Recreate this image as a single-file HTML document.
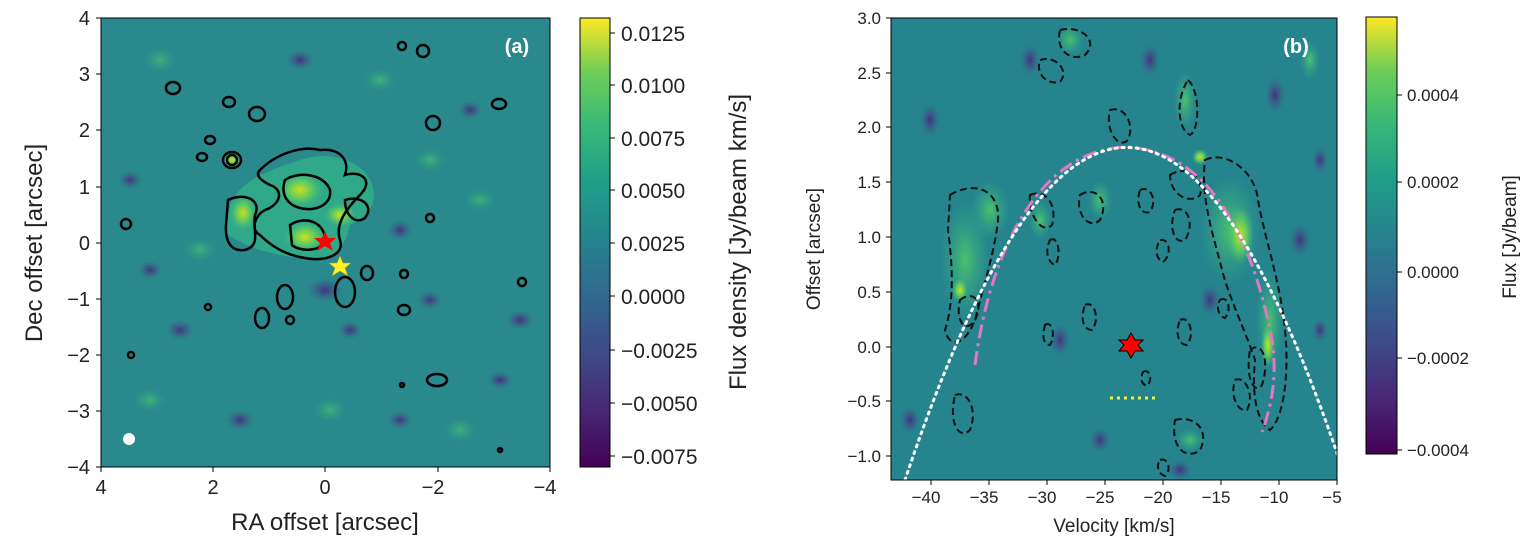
<!DOCTYPE html>
<html><head><meta charset="utf-8"><style>
body{margin:0;background:#fff;}
svg{display:block;font-family:"Liberation Sans","DejaVu Sans",sans-serif;}
</style></head><body>
<svg width="1536" height="552" viewBox="0 0 1536 552" xmlns="http://www.w3.org/2000/svg">
<defs>
<linearGradient id="vir" x1="0" y1="1" x2="0" y2="0">
<stop offset="0" stop-color="#440154"/><stop offset="0.13" stop-color="#482878"/>
<stop offset="0.25" stop-color="#3e4989"/><stop offset="0.38" stop-color="#31688e"/>
<stop offset="0.5" stop-color="#26828e"/><stop offset="0.63" stop-color="#1f9e89"/>
<stop offset="0.75" stop-color="#35b779"/><stop offset="0.88" stop-color="#6ece58"/>
<stop offset="1" stop-color="#fde725"/></linearGradient>
<radialGradient id="gb"><stop offset="0" stop-color="#c8e020"/><stop offset="0.5" stop-color="#5ec962"/><stop offset="1" stop-color="#3bb67a" stop-opacity="0"/></radialGradient>
<radialGradient id="gg"><stop offset="0" stop-color="#4cc26c"/><stop offset="1" stop-color="#2fa88a" stop-opacity="0"/></radialGradient>
<radialGradient id="pp"><stop offset="0" stop-color="#46327e"/><stop offset="1" stop-color="#3b5a8c" stop-opacity="0"/></radialGradient>
<clipPath id="ca"><rect x="101" y="18" width="449" height="449"/></clipPath>
<clipPath id="cb"><rect x="891" y="18" width="446" height="462"/></clipPath>
</defs>

<!-- Panel a -->
<g clip-path="url(#ca)">
<rect x="101" y="18" width="449" height="449" fill="#2a898c"/>
<g fill="url(#pp)">
<ellipse cx="325" cy="290" rx="18" ry="12"/><ellipse cx="250" cy="225" rx="14" ry="10"/>
<ellipse cx="400" cy="230" rx="12" ry="10"/><ellipse cx="240" cy="420" rx="14" ry="10"/>
<ellipse cx="520" cy="320" rx="14" ry="10"/><ellipse cx="180" cy="330" rx="14" ry="10"/>
<ellipse cx="300" cy="60" rx="14" ry="10"/><ellipse cx="470" cy="110" rx="12" ry="9"/>
<ellipse cx="150" cy="270" rx="12" ry="9"/><ellipse cx="400" cy="420" rx="12" ry="9"/>
<ellipse cx="430" cy="300" rx="12" ry="9"/><ellipse cx="130" cy="180" rx="12" ry="9"/>
<ellipse cx="500" cy="380" rx="12" ry="9"/><ellipse cx="350" cy="330" rx="12" ry="9"/>
</g>
<g fill="url(#gg)" opacity="0.7">
<ellipse cx="160" cy="60" rx="16" ry="12"/><ellipse cx="380" cy="80" rx="16" ry="12"/>
<ellipse cx="480" cy="200" rx="16" ry="12"/><ellipse cx="150" cy="400" rx="16" ry="12"/>
<ellipse cx="330" cy="410" rx="16" ry="12"/><ellipse cx="460" cy="430" rx="16" ry="12"/>
<ellipse cx="200" cy="250" rx="16" ry="12"/><ellipse cx="430" cy="160" rx="16" ry="12"/>
</g>
<path d="M230 205 C240 180 270 170 300 160 C330 150 360 160 370 180 C380 200 370 215 350 225 C345 250 330 262 300 258 C270 255 240 245 225 232 Z" fill="#2fa98a"/>
<g fill="url(#gb)">
<ellipse cx="300" cy="190" rx="24" ry="18"/><ellipse cx="305" cy="237" rx="22" ry="16"/>
<ellipse cx="243" cy="213" rx="14" ry="18"/><ellipse cx="232" cy="160" rx="10" ry="8"/>
<ellipse cx="340" cy="215" rx="16" ry="12"/>
</g>
<g fill="none" stroke="#000" stroke-width="2.5">
<path d="M260 170 C275 155 300 145 320 150 C340 148 350 160 345 175 C360 170 375 180 360 195 C345 210 335 225 340 240 C345 255 325 262 305 258 C285 255 270 245 260 235 C250 230 255 215 265 210 C280 205 285 190 270 185 C260 180 255 175 260 170 Z"/>
<path d="M228 200 C245 192 262 200 255 215 C252 230 262 245 245 250 C230 252 225 240 226 225 Z"/>
<path d="M285 180 C300 170 325 175 330 190 C332 205 315 212 300 208 C288 205 280 195 285 180 Z"/>
<path d="M290 225 C305 215 325 222 325 240 C322 252 300 252 292 245 Z"/>
<path d="M345 200 C360 195 375 205 365 218 C355 225 345 215 345 200 Z"/>
<ellipse cx="232" cy="160" rx="9" ry="8"/><ellipse cx="232" cy="160" rx="5" ry="5"/>
<ellipse cx="229" cy="102" rx="6" ry="5"/><ellipse cx="423" cy="51" rx="6" ry="6"/>
<ellipse cx="402" cy="46" rx="4" ry="4"/><ellipse cx="173" cy="88" rx="7" ry="6"/>
<ellipse cx="499" cy="104" rx="7" ry="5"/><ellipse cx="433" cy="123" rx="7" ry="7"/>
<ellipse cx="257" cy="114" rx="8" ry="7"/><ellipse cx="210" cy="140" rx="5" ry="4"/>
<ellipse cx="126" cy="224" rx="5" ry="5"/><ellipse cx="430" cy="218" rx="4" ry="4"/>
<ellipse cx="367" cy="273" rx="6" ry="7"/><ellipse cx="404" cy="274" rx="4" ry="4"/>
<ellipse cx="285" cy="297" rx="8" ry="12"/><ellipse cx="345" cy="292" rx="10" ry="15"/>
<ellipse cx="404" cy="310" rx="6" ry="5"/><ellipse cx="290" cy="320" rx="4" ry="4"/>
<ellipse cx="262" cy="318" rx="7" ry="10"/><ellipse cx="522" cy="282" rx="4" ry="4"/>
<ellipse cx="208" cy="307" rx="3" ry="3"/><ellipse cx="131" cy="355" rx="3" ry="3"/>
<ellipse cx="437" cy="380" rx="10" ry="6"/><ellipse cx="402" cy="385" rx="2" ry="2"/>
<ellipse cx="500" cy="450" rx="2" ry="2"/><ellipse cx="202" cy="157" rx="5" ry="4"/>
</g>
<circle cx="129" cy="439" r="6" fill="#fff"/>
<polygon points="325,231 328,238 336,238 330,243 333,251 325,246 317,251 320,243 314,238 322,238" fill="#f00"/>
<polygon points="340,256 343,263 351,263 345,268 348,276 340,271 332,276 335,268 329,263 337,263" fill="#fdf02a" stroke="#b8a000" stroke-width="0.5"/>
<text x="517" y="53" fill="#fff" font-size="20" font-weight="bold" text-anchor="middle">(a)</text>
</g>
<rect x="101" y="18" width="449" height="449" fill="none" stroke="#000" stroke-width="1"/>
<g font-size="20" fill="#222" text-anchor="end">
<g stroke="#000"><line x1="96" y1="18" x2="101" y2="18"/><line x1="96" y1="74" x2="101" y2="74"/><line x1="96" y1="130" x2="101" y2="130"/><line x1="96" y1="187" x2="101" y2="187"/><line x1="96" y1="243" x2="101" y2="243"/><line x1="96" y1="299" x2="101" y2="299"/><line x1="96" y1="355" x2="101" y2="355"/><line x1="96" y1="411" x2="101" y2="411"/><line x1="96" y1="467" x2="101" y2="467"/></g>
<text x="90" y="25">4</text><text x="90" y="81">3</text><text x="90" y="137">2</text><text x="90" y="194">1</text><text x="90" y="250">0</text><text x="90" y="306">−1</text><text x="90" y="362">−2</text><text x="90" y="418">−3</text><text x="90" y="474">−4</text>
</g>
<g font-size="20" fill="#222" text-anchor="middle">
<g stroke="#000"><line x1="101" y1="467" x2="101" y2="472"/><line x1="213" y1="467" x2="213" y2="472"/><line x1="325" y1="467" x2="325" y2="472"/><line x1="438" y1="467" x2="438" y2="472"/><line x1="550" y1="467" x2="550" y2="472"/></g>
<text x="101" y="494">4</text><text x="213" y="494">2</text><text x="325" y="494">0</text><text x="433" y="494">−2</text><text x="545" y="494">−4</text>
</g>
<text x="325" y="530" font-size="24" fill="#222" text-anchor="middle">RA offset [arcsec]</text>
<text transform="translate(42,243) rotate(-90)" font-size="24" fill="#222" text-anchor="middle">Dec offset [arcsec]</text>

<!-- colorbar a -->
<rect x="580" y="18" width="30" height="449" fill="url(#vir)" stroke="#000"/>
<g font-size="21" fill="#222">
<g stroke="#000"><line x1="610" y1="33" x2="615" y2="33"/><line x1="610" y1="85" x2="615" y2="85"/><line x1="610" y1="138" x2="615" y2="138"/><line x1="610" y1="190" x2="615" y2="190"/><line x1="610" y1="243" x2="615" y2="243"/><line x1="610" y1="296" x2="615" y2="296"/><line x1="610" y1="350" x2="615" y2="350"/><line x1="610" y1="403" x2="615" y2="403"/><line x1="610" y1="456" x2="615" y2="456"/></g>
<text x="621" y="41">0.0125</text><text x="621" y="93">0.0100</text><text x="621" y="146">0.0075</text><text x="621" y="198">0.0050</text><text x="621" y="251">0.0025</text><text x="621" y="304">0.0000</text><text x="621" y="358">−0.0025</text><text x="621" y="411">−0.0050</text><text x="621" y="464">−0.0075</text>
</g>
<text transform="translate(746,242) rotate(-90)" font-size="24" fill="#222" text-anchor="middle">Flux density [Jy/beam km/s]</text>

<!-- Panel b -->
<g clip-path="url(#cb)">
<rect x="891" y="18" width="446" height="462" fill="#26848e"/>
<g fill="url(#pp)">
<ellipse cx="1275" cy="95" rx="10" ry="18"/><ellipse cx="1320" cy="160" rx="8" ry="14"/>
<ellipse cx="1060" cy="340" rx="10" ry="16"/><ellipse cx="1320" cy="330" rx="8" ry="12"/>
<ellipse cx="910" cy="420" rx="10" ry="14"/><ellipse cx="1180" cy="470" rx="12" ry="10"/>
<ellipse cx="1030" cy="60" rx="10" ry="16"/><ellipse cx="1100" cy="440" rx="10" ry="12"/>
<ellipse cx="1150" cy="60" rx="10" ry="16"/><ellipse cx="1300" cy="240" rx="10" ry="16"/>
<ellipse cx="930" cy="120" rx="10" ry="16"/><ellipse cx="1210" cy="300" rx="10" ry="16"/>
</g>
<g fill="url(#gg)">
<ellipse cx="1230" cy="230" rx="30" ry="55"/><ellipse cx="1270" cy="320" rx="14" ry="50"/>
<ellipse cx="965" cy="260" rx="25" ry="60"/><ellipse cx="990" cy="210" rx="20" ry="30"/>
<ellipse cx="1185" cy="100" rx="12" ry="30"/><ellipse cx="1100" cy="200" rx="12" ry="20"/>
<ellipse cx="1040" cy="220" rx="12" ry="20"/><ellipse cx="1190" cy="440" rx="14" ry="12"/>
<ellipse cx="1070" cy="40" rx="14" ry="16"/><ellipse cx="1310" cy="60" rx="10" ry="20"/>
</g>
<g fill="url(#gb)"><ellipse cx="1240" cy="235" rx="14" ry="30"/><ellipse cx="1268" cy="345" rx="7" ry="22"/><ellipse cx="1200" cy="157" rx="8" ry="8"/><ellipse cx="960" cy="290" rx="8" ry="12"/></g>
<g fill="none" stroke="#111" stroke-width="2" stroke-dasharray="7,4">
<path d="M1205 160 C1225 150 1255 170 1258 200 C1265 240 1280 280 1285 330 C1290 380 1282 420 1270 430 C1255 420 1252 390 1255 360 C1245 330 1230 300 1222 270 C1215 240 1200 200 1205 160 Z"/>
<path d="M1250 350 C1262 340 1270 360 1262 385 C1255 395 1245 380 1250 350 Z"/>
<path d="M1188 80 C1200 90 1200 130 1190 135 C1178 130 1175 100 1188 80 Z"/>
<path d="M1170 175 C1185 165 1205 175 1200 195 C1190 205 1170 195 1170 175 Z"/>
<path d="M950 195 C975 180 1000 190 998 220 C995 250 985 280 975 320 C965 345 950 350 945 330 C955 300 952 260 948 230 Z"/>
<path d="M960 300 C972 290 985 300 975 320 C965 335 955 320 960 300 Z"/>
<path d="M1060 30 C1080 25 1100 40 1085 55 C1070 62 1055 50 1060 30 Z"/>
<path d="M1040 60 C1055 55 1070 70 1060 82 C1048 85 1035 75 1040 60 Z"/>
<path d="M1110 110 C1125 105 1135 125 1128 140 C1118 150 1105 130 1110 110 Z"/>
<path d="M1080 195 C1095 185 1110 200 1100 220 C1090 230 1075 215 1080 195 Z"/>
<path d="M1030 195 C1045 188 1058 205 1052 225 C1042 235 1028 215 1030 195 Z"/>
<path d="M1050 240 C1058 235 1062 255 1055 265 C1047 262 1045 250 1050 240 Z"/>
<path d="M1140 190 C1150 185 1158 200 1150 212 C1142 215 1135 205 1140 190 Z"/>
<path d="M1175 210 C1188 205 1195 225 1185 240 C1175 245 1168 228 1175 210 Z"/>
<path d="M1160 240 C1170 238 1172 255 1163 262 C1155 258 1155 248 1160 240 Z"/>
<path d="M1175 420 C1195 415 1210 430 1200 450 C1188 460 1170 450 1175 420 Z"/>
<path d="M955 395 C968 390 978 410 970 430 C960 440 948 425 955 395 Z"/>
<path d="M1045 325 C1052 320 1056 335 1050 345 C1043 345 1042 335 1045 325 Z"/>
<path d="M1085 305 C1095 300 1100 320 1092 330 C1083 330 1080 318 1085 305 Z"/>
<path d="M1180 320 C1190 315 1195 335 1187 345 C1178 345 1175 332 1180 320 Z"/>
<path d="M1235 380 C1245 375 1255 395 1247 410 C1237 412 1230 395 1235 380 Z"/>
<path d="M1220 300 C1228 295 1232 310 1225 318 C1218 316 1216 306 1220 300 Z"/>
<path d="M1143 372 C1150 368 1153 380 1147 386 C1141 384 1140 378 1143 372 Z"/>
<path d="M1160 460 C1168 457 1172 470 1165 476 C1158 474 1156 466 1160 460 Z"/>
</g>
<path d="M975 365 C990 250 1040 150 1125 147 C1215 150 1255 250 1272 340 C1278 380 1270 410 1262 432" fill="none" stroke="#e377c2" stroke-width="3" stroke-dasharray="14,5,3,5"/>
<path d="M905 480 Q1125 -176 1340 462" fill="none" stroke="#fff" stroke-width="3" stroke-dasharray="2,5" stroke-linecap="round"/>
<line x1="1110" y1="398" x2="1157" y2="398" stroke="#f0f040" stroke-width="3" stroke-dasharray="3,4"/>
<polygon points="1131,333 1135,340 1143,340 1138,345 1143,351 1135,351 1131,358 1127,351 1119,351 1124,345 1119,340 1127,340" fill="#f00" stroke="#000" stroke-width="1"/>
<text x="1296" y="53" fill="#fff" font-size="20" font-weight="bold" text-anchor="middle">(b)</text>
</g>
<rect x="891" y="18" width="446" height="462" fill="none" stroke="#000"/>
<g font-size="17" fill="#222" text-anchor="end">
<g stroke="#000"><line x1="886" y1="18" x2="891" y2="18"/><line x1="886" y1="73" x2="891" y2="73"/><line x1="886" y1="127" x2="891" y2="127"/><line x1="886" y1="182" x2="891" y2="182"/><line x1="886" y1="237" x2="891" y2="237"/><line x1="886" y1="292" x2="891" y2="292"/><line x1="886" y1="347" x2="891" y2="347"/><line x1="886" y1="401" x2="891" y2="401"/><line x1="886" y1="456" x2="891" y2="456"/></g>
<text x="881" y="24">3.0</text><text x="881" y="79">2.5</text><text x="881" y="133">2.0</text><text x="881" y="188">1.5</text><text x="881" y="243">1.0</text><text x="881" y="298">0.5</text><text x="881" y="353">0.0</text><text x="881" y="407">−0.5</text><text x="881" y="462">−1.0</text>
</g>
<g font-size="17" fill="#222" text-anchor="middle">
<g stroke="#000"><line x1="931" y1="480" x2="931" y2="485"/><line x1="989" y1="480" x2="989" y2="485"/><line x1="1047" y1="480" x2="1047" y2="485"/><line x1="1105" y1="480" x2="1105" y2="485"/><line x1="1163" y1="480" x2="1163" y2="485"/><line x1="1221" y1="480" x2="1221" y2="485"/><line x1="1279" y1="480" x2="1279" y2="485"/><line x1="1337" y1="480" x2="1337" y2="485"/></g>
<text x="926" y="503">−40</text><text x="984" y="503">−35</text><text x="1042" y="503">−30</text><text x="1100" y="503">−25</text><text x="1158" y="503">−20</text><text x="1216" y="503">−15</text><text x="1274" y="503">−10</text><text x="1332" y="503">−5</text>
</g>
<text x="1114" y="532" font-size="19" fill="#222" text-anchor="middle">Velocity [km/s]</text>
<text transform="translate(820,249) rotate(-90)" font-size="19" fill="#222" text-anchor="middle">Offset [arcsec]</text>

<!-- colorbar b -->
<rect x="1366" y="17" width="31" height="437" fill="url(#vir)" stroke="#000"/>
<g font-size="17" fill="#222">
<g stroke="#000"><line x1="1397" y1="95" x2="1402" y2="95"/><line x1="1397" y1="182" x2="1402" y2="182"/><line x1="1397" y1="272" x2="1402" y2="272"/><line x1="1397" y1="358" x2="1402" y2="358"/><line x1="1397" y1="450" x2="1402" y2="450"/></g>
<text x="1407" y="101">0.0004</text><text x="1407" y="188">0.0002</text><text x="1407" y="278">0.0000</text><text x="1407" y="364">−0.0002</text><text x="1407" y="456">−0.0004</text>
</g>
<text transform="translate(1516,237) rotate(-90)" font-size="19" fill="#222" text-anchor="middle">Flux [Jy/beam]</text>
</svg>
</body></html>
